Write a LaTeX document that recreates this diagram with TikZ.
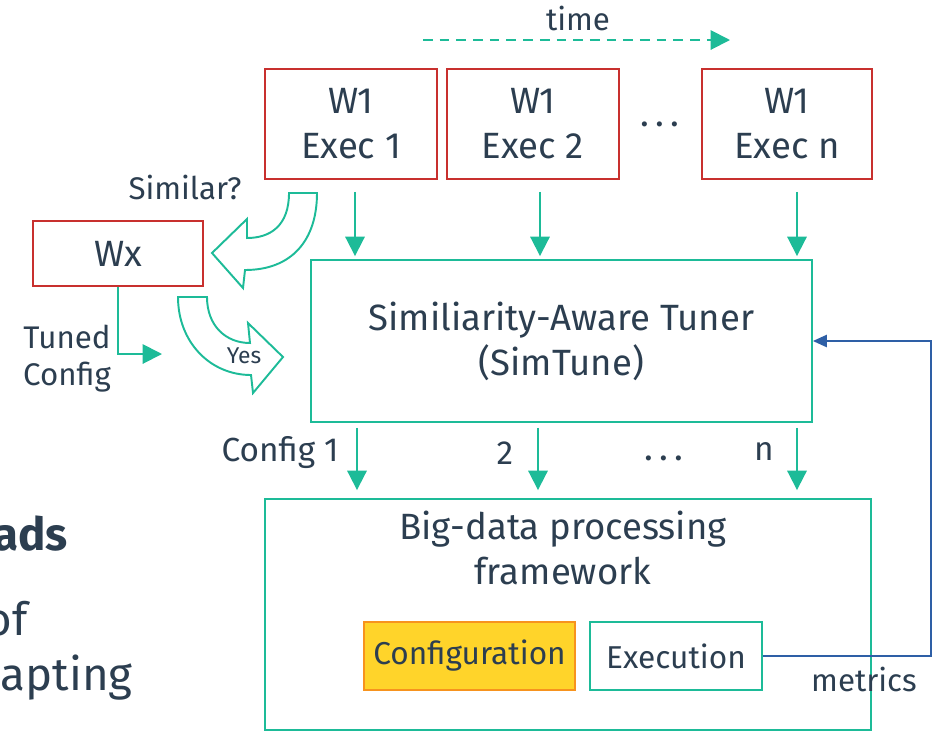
\documentclass[tikz,border=0pt]{standalone}
\usepackage{fontspec}
\setmainfont{Fira Sans}
\usepackage{tikz}
\usetikzlibrary{arrows.meta,positioning,calc}
\definecolor{ink}{HTML}{2C3E50}
\definecolor{sea}{HTML}{1DBB98}
\definecolor{brick}{HTML}{C8302E}
\definecolor{sun}{HTML}{FFD42A}
\definecolor{tang}{HTML}{F7931E}
\definecolor{navy}{HTML}{2E5FA6}
\tikzset{
  font=\fontsize{20.8}{25.5}\selectfont,
  job/.style={draw=brick, line width=1.1pt, text=ink, align=center, inner sep=0pt},
  stage/.style={draw=sea, line width=1.1pt, text=ink, align=center, inner sep=0pt},
  small/.style={stage, font=\fontsize{18}{22}\selectfont,
    minimum height=1.36cm},
  cfgbox/.style={small, draw=tang, fill=sun},
  lbl/.style={text=ink, font=\fontsize{17.8}{21}\selectfont, align=center, inner sep=0pt},
  frag/.style={text=ink, font=\fontsize{26}{30}\selectfont, inner sep=0pt, anchor=base east},
  flow/.style={-{Triangle[length=11pt,width=11pt]}, line width=1.1pt, draw=sea},
  drop/.style={flow, shorten <=0.24cm, shorten >=0.06cm},
  hollow/.style={draw=sea, line width=1.1pt, fill=white, line join=miter},
  fb/.style={-{Triangle[length=8pt,width=7pt]}, line width=1.1pt, draw=navy}
}

\begin{document}
\begin{tikzpicture}[x=0.02cm,y=-0.02cm]
  \useasboundingbox (0,0) rectangle (933,731);

  % cut-off slide text
  \node[frag, font=\fontsize{26}{30}\selectfont\bfseries] (f1) at (68,550) {ads};
  \node[frag] (f2) at (28,635) {of};
  \node[frag] (f3) at (133,690) {apting};

  % time axis
  \node[lbl] (time) at (578,18) {time};
  \coordinate (t0) at (423,40);
  \coordinate (t1) at (730,40);
  \draw[flow, dash pattern=on 5.5pt off 4pt] (t0) -- (t1);

  % workload runs
  \node[job, minimum width=3.44cm, minimum height=2.2cm] (e1) at (351,124) {W1\\Exec 1};
  \node[job, minimum width=3.44cm, minimum height=2.2cm] (e2) at (533,124) {W1\\Exec 2};
  \node[text=ink] (edots) at (660,124) {.\,.\,.};
  \node[job, minimum width=3.4cm, minimum height=2.2cm]  (en) at (787,124) {W1\\Exec n};
  \node[job, minimum width=3.4cm, minimum height=1.3cm]  (wx) at (118,253.5) {Wx};

  \node[stage, minimum width=10.02cm, minimum height=3.24cm] (tune) at (561.5,341)
    {Similiarity-Aware Tuner\\(SimTune)};
  \node[stage, minimum width=12.12cm, minimum height=4.62cm] (bd) at (568,614.5) {};
  \node[text=ink, align=center, inner sep=0pt] (bdt) at (563,548) {Big-data processing\\framework};
  \node[cfgbox, minimum width=4.22cm] (cfg) at (469.5,656) {Configuration};
  \node[small,  minimum width=3.44cm] (ex)  at (676,656) {Execution};

  % similarity check
  \node[lbl] (sim) at (185,187) {Similar?};
  \draw[hollow] (289,193) .. controls (289,226) and (270,238) .. (247,238)
    -- (247,219) -- (212,253) -- (243,288) -- (245,270)
    .. controls (292,270) and (317,240) .. (317,193) -- cycle;
  \draw[hollow] (178,297) -- (207,297) .. controls (207,326) and (226,343) .. (250,343)
    -- (248,323) -- (283,357) -- (253,393) -- (251,375)
    .. controls (210,375) and (178,342) .. (178,297) -- cycle;
  \node[lbl, font=\fontsize{13}{15}\selectfont] (yes) at (244,356) {Yes};

  \coordinate (tc) at (162,354);
  \draw[flow] (wx.south) |- (tc);
  \node[lbl] (tcl) at (67,359) {Tuned\\Config};

  % runs into tuner
  \draw[drop] (355,0 |- e1.south) -- (355,0 |- tune.north);
  \draw[drop] (540,0 |- e2.south) -- (540,0 |- tune.north);
  \draw[drop] (797,0 |- en.south) -- (797,0 |- tune.north);

  % configs into framework
  \draw[flow, shorten <=0.1cm, shorten >=0.16cm] (357,0 |- tune.south) -- (357,0 |- bd.north);
  \draw[flow, shorten <=0.1cm, shorten >=0.16cm] (538,0 |- tune.south) -- (538,0 |- bd.north);
  \draw[flow, shorten <=0.1cm, shorten >=0.16cm] (797,0 |- tune.south) -- (797,0 |- bd.north);
  \node[lbl, font=\fontsize{19}{22}\selectfont] (c1) at (280,453) {Config 1};
  \node[lbl, font=\fontsize{19}{22}\selectfont] (c2) at (505,453) {2};
  \node[text=ink] (cdots) at (664,458) {.\,.\,.};
  \node[lbl, font=\fontsize{19}{22}\selectfont] (cn) at (764,451) {n};

  % feedback
  \draw[fb] (ex.east) -| (931,0 |- tune.east) -- (tune.east);
  \node[lbl] (met) at (864,679) {metrics};
\end{tikzpicture}
\end{document}
